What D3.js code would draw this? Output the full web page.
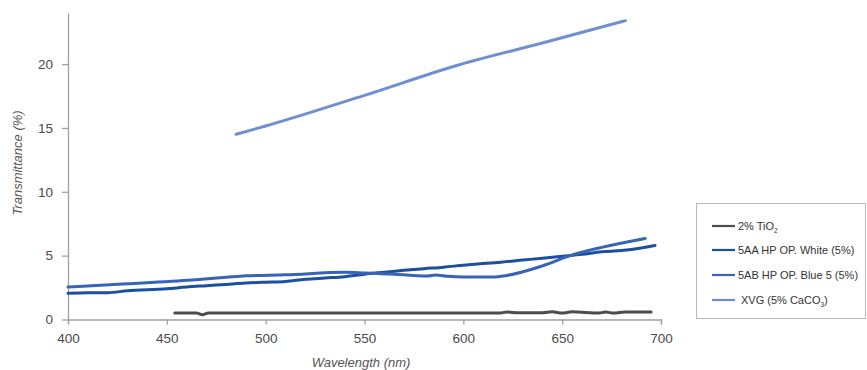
<!DOCTYPE html>
<html>
<head>
<meta charset="utf-8">
<script src="https://cdn.jsdelivr.net/npm/d3@7"></script>
<style>
  html, body { margin: 0; padding: 0; background: #fff; }
  svg { display: block; font-family: "Liberation Sans", Arial, sans-serif; }
</style>
</head>
<body>
<svg id="chart" width="867" height="370"></svg>
<script>
// Transmittance spectra (wavelength nm, transmittance %)
const tio2Wl   = [454, 465, 468, 471, 500, 550, 600, 618, 622, 628, 640, 645, 650, 655, 662, 668, 672, 676, 682, 695];
const tio2Val  = [0.5, 0.5, 0.38, 0.5, 0.5, 0.5, 0.5, 0.5, 0.58, 0.52, 0.52, 0.6, 0.5, 0.6, 0.55, 0.5, 0.58, 0.5, 0.58, 0.58];

const whiteWl  = [400, 410, 420, 430, 450, 460, 470, 480, 490, 500, 510, 520, 530, 540, 550, 560, 570, 580, 590, 600, 610, 620, 630, 640, 650, 660, 670, 680, 690, 697];
const whiteVal = [2.05, 2.1, 2.1, 2.25, 2.4, 2.55, 2.65, 2.75, 2.85, 2.92, 2.98, 3.15, 3.25, 3.35, 3.55, 3.7, 3.85, 3.98, 4.1, 4.25, 4.38, 4.5, 4.65, 4.8, 4.95, 5.1, 5.3, 5.4, 5.6, 5.8];

const blueWl   = [400, 430, 463, 480, 490, 510, 540, 550, 565, 575, 582, 586, 592, 600, 615, 622, 640, 654, 670, 692];
const blueVal  = [2.55, 2.8, 3.1, 3.3, 3.42, 3.5, 3.7, 3.65, 3.55, 3.45, 3.4, 3.48, 3.38, 3.33, 3.33, 3.45, 4.2, 5.0, 5.65, 6.35];

const xvgWl    = [485, 500, 550, 598, 640, 682];
const xvgVal   = [14.5, 15.15, 17.55, 19.95, 21.65, 23.4];

const xTicks = [400, 450, 500, 550, 600, 650, 700];
const yTicks = [0, 5, 10, 15, 20];

const seriesNames  = ["2% TiO", "5AA HP OP. White (5%)", "5AB HP OP. Blue 5 (5%)", "XVG (5% CaCO"];
const seriesColors = ["#4d4d4d", "#1c4f9f", "#3763b9", "#6e8fd2"];

const series = [
  { wl: tio2Wl,  val: tio2Val,  color: seriesColors[0] },
  { wl: whiteWl, val: whiteVal, color: seriesColors[1] },
  { wl: blueWl,  val: blueVal,  color: seriesColors[2] },
  { wl: xvgWl,   val: xvgVal,   color: seriesColors[3] }
];

const svg = d3.select("#chart");

const x = d3.scaleLinear().domain([400, 700]).range([68, 661]);
const y = d3.scaleLinear().domain([0, 24]).range([319.5, 13]);

const axisColor = "#a0a0a0";
const textColor = "#4a4a4a";

// X axis
const xAxis = svg.append("g")
  .attr("transform", `translate(0,${y(0)})`)
  .call(d3.axisBottom(x).tickValues(xTicks).tickSize(5).tickPadding(9).tickSizeOuter(5));
xAxis.select(".domain").attr("stroke", axisColor).attr("stroke-width", 1.3);
xAxis.selectAll(".tick line").attr("stroke", axisColor).attr("stroke-width", 1.3);
xAxis.selectAll(".tick text").attr("fill", textColor).attr("font-size", 13.5)
  .attr("font-family", "'Liberation Sans', Arial, sans-serif");

// Y axis
const yAxis = svg.append("g")
  .attr("transform", `translate(${x(400)},0)`)
  .call(d3.axisLeft(y).tickValues(yTicks).tickSize(6).tickPadding(9).tickSizeOuter(0));
yAxis.select(".domain").attr("stroke", axisColor).attr("stroke-width", 1.3);
yAxis.selectAll(".tick line").attr("stroke", axisColor).attr("stroke-width", 1.3);
yAxis.selectAll(".tick text").attr("fill", textColor).attr("font-size", 13.5)
  .attr("font-family", "'Liberation Sans', Arial, sans-serif");

// Axis titles
svg.append("text")
  .attr("x", 361).attr("y", 367)
  .attr("text-anchor", "middle")
  .attr("font-style", "italic").attr("font-size", 13)
  .attr("fill", "#555")
  .text("Wavelength (nm)");

svg.append("text")
  .attr("transform", "translate(22,163) rotate(-90)")
  .attr("text-anchor", "middle")
  .attr("font-style", "italic").attr("font-size", 13)
  .attr("fill", "#555")
  .text("Transmittance (%)");

// Spectra
const line = d3.line()
  .x(d => x(d[0]))
  .y(d => y(d[1]))
  .curve(d3.curveMonotoneX);

series.forEach(s => {
  const pts = s.wl.map((w, i) => [w, s.val[i]]);
  svg.append("path")
    .datum(pts)
    .attr("fill", "none")
    .attr("stroke", s.color)
    .attr("stroke-width", 3)
    .attr("stroke-linejoin", "round")
    .attr("stroke-linecap", "round")
    .attr("d", line);
});

// Legend
const legend = svg.append("g");
legend.append("rect")
  .attr("x", 696.5).attr("y", 203.5)
  .attr("width", 169).attr("height", 115)
  .attr("fill", "#fff")
  .attr("stroke", "#b8b8b8").attr("stroke-width", 1);

const legendY = [226, 250, 275, 300];
const subs = ["2", null, null, "3"];
const tails = ["", "", "", ")"];

seriesNames.forEach((name, i) => {
  const g = legend.append("g").attr("transform", `translate(0,${legendY[i]})`);
  g.append("line")
    .attr("x1", 712).attr("x2", 735)
    .attr("y1", 0).attr("y2", 0)
    .attr("stroke", seriesColors[i]).attr("stroke-width", 2.2);
  const t = g.append("text")
    .attr("x", i === 3 ? 741 : 738).attr("y", 4)
    .attr("font-size", 11).attr("fill", "#333");
  t.append("tspan").text(name);
  if (subs[i]) {
    t.append("tspan").attr("font-size", 6.5).attr("dy", 3).text(subs[i]);
    if (tails[i]) t.append("tspan").attr("dy", -3).text(tails[i]);
  }
});
</script>
</body>
</html>
